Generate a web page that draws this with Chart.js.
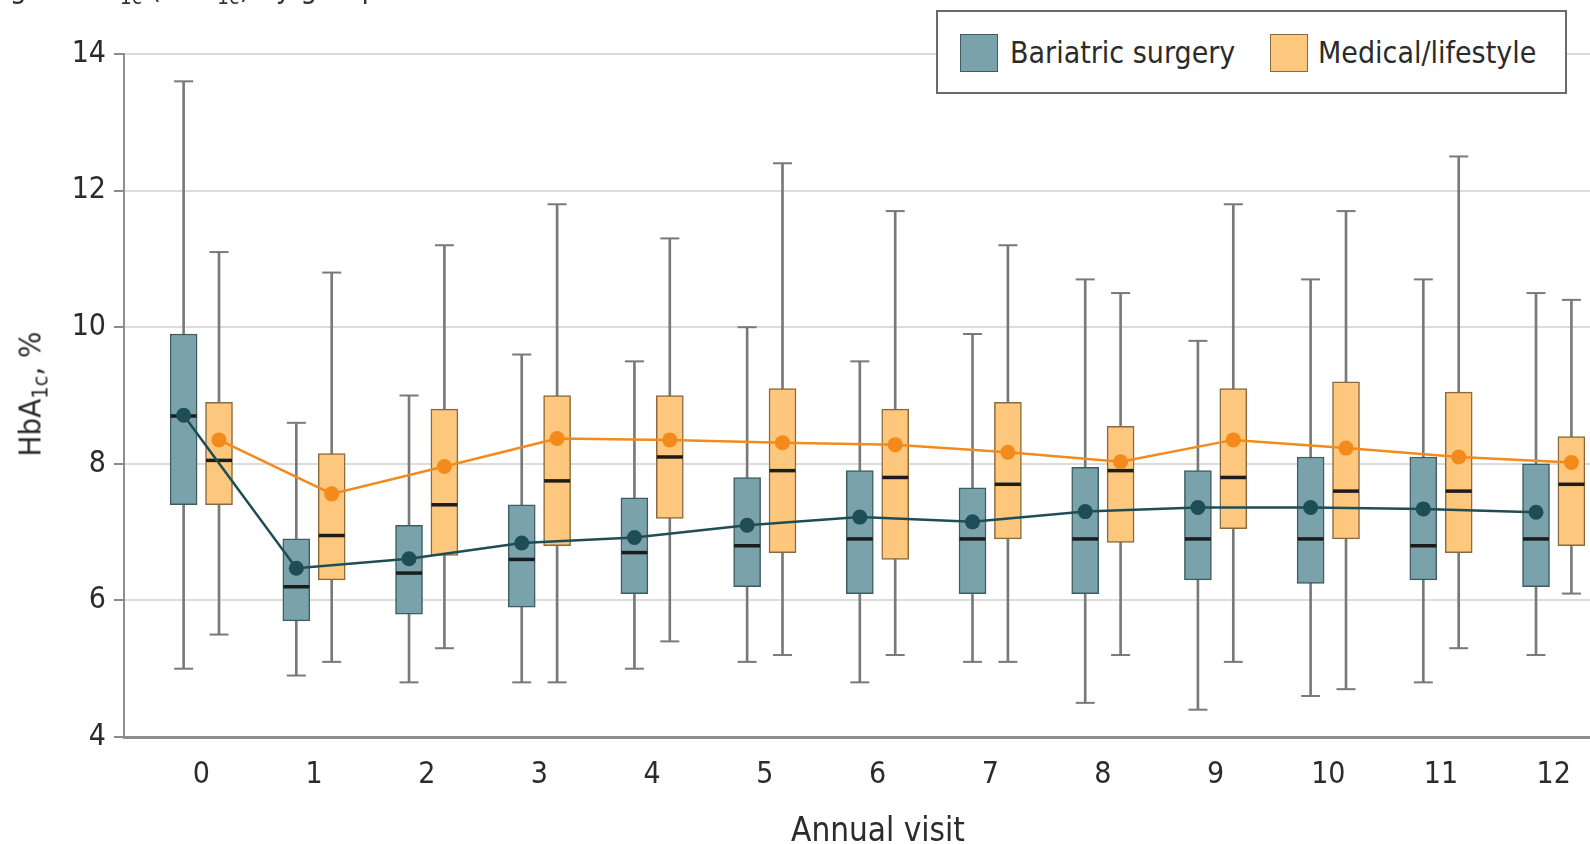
<!DOCTYPE html>
<html>
<head>
<meta charset="utf-8">
<script src="https://cdn.jsdelivr.net/npm/chart.js@4/dist/chart.umd.min.js"></script>
<style>
  html, body { margin: 0; padding: 0; background: #fff; overflow: hidden; }
  #wrap { position: relative; width: 1590px; height: 844px; overflow: hidden;
          font-family: 'DejaVu Sans Condensed', 'DejaVu Sans', sans-serif; color: #2b2b2b; }
  #chart { position: absolute; left: 0; top: 0; }
  .heading { position: absolute; left: -70px; top: -27px; font-size: 30px; line-height: 30px; white-space: nowrap; color: #333; }
  .heading sub, .ytitle sub { font-size: 70%; vertical-align: -0.3em; line-height: 0; }
  .ytitle { position: absolute; left: 30px; top: 394px; font-size: 31px; line-height: 31px; white-space: nowrap;
            transform: translate(-50%, -50%) rotate(-90deg); color: #2b2b2b; }
  .xtitle { position: absolute; left: 878px; top: 810px; transform: translateX(-50%); font-size: 33px; line-height: 40px;
            white-space: nowrap; color: #2b2b2b; }
  .legend { position: absolute; left: 936px; top: 10px; width: 631px; height: 84px; box-sizing: border-box;
            border: 2px solid #6a6a6a; background: #fff; }
  .swatch { position: absolute; top: 22px; width: 38px; height: 38px; box-sizing: border-box; border: 1.5px solid; }
  .ltext { position: absolute; top: 20px; font-size: 30px; line-height: 42px; white-space: nowrap; color: #2b2b2b; }
</style>
</head>
<body>
<div id="wrap">
  <canvas id="chart" width="1590" height="844"></canvas>
  <div class="heading">Hemoglobin A<sub>1c</sub> (HbA<sub>1c</sub>) by group</div>
  <div class="ytitle">HbA<sub>1c</sub>, %</div>
  <div class="xtitle">Annual visit</div>
  <div class="legend">
    <div class="swatch" style="left:22px; background:#7aa2aa; border-color:#3e5d63;"></div>
    <div class="ltext" style="left:72px;">Bariatric surgery</div>
    <div class="swatch" style="left:332px; background:#fdc77d; border-color:#8a6a3c;"></div>
    <div class="ltext" style="left:380px;">Medical/lifestyle</div>
  </div>
</div>
<script>
// Annual visits on the x axis
const visits = [0, 1, 2, 3, 4, 5, 6, 7, 8, 9, 10, 11, 12];
const yTicks = [4, 6, 8, 10, 12, 14];

// Bariatric surgery group: whisker ends, quartiles, median and mean HbA1c (%)
const surgLow    = [5.0, 4.9, 4.8, 4.8, 5.0, 5.1, 4.8, 5.1, 4.5, 4.4, 4.6, 4.8, 5.2];
const surgQ1     = [7.4, 5.7, 5.8, 5.9, 6.1, 6.2, 6.1, 6.1, 6.1, 6.3, 6.25, 6.3, 6.2];
const surgMedian = [8.7, 6.2, 6.4, 6.6, 6.7, 6.8, 6.9, 6.9, 6.9, 6.9, 6.9, 6.8, 6.9];
const surgQ3     = [9.9, 6.9, 7.1, 7.4, 7.5, 7.8, 7.9, 7.65, 7.95, 7.9, 8.1, 8.1, 8.0];
const surgHigh   = [13.6, 8.6, 9.0, 9.6, 9.5, 10.0, 9.5, 9.9, 10.7, 9.8, 10.7, 10.7, 10.5];
const surgMean   = [8.71, 6.47, 6.61, 6.84, 6.92, 7.10, 7.22, 7.15, 7.30, 7.36, 7.36, 7.34, 7.29];

// Medical/lifestyle group
const medLow    = [5.5, 5.1, 5.3, 4.8, 5.4, 5.2, 5.2, 5.1, 5.2, 5.1, 4.7, 5.3, 6.1];
const medQ1     = [7.4, 6.3, 6.66, 6.8, 7.2, 6.7, 6.6, 6.9, 6.85, 7.05, 6.9, 6.7, 6.8];
const medMedian = [8.05, 6.95, 7.4, 7.75, 8.1, 7.9, 7.8, 7.7, 7.9, 7.8, 7.6, 7.6, 7.7];
const medQ3     = [8.9, 8.15, 8.8, 9.0, 9.0, 9.1, 8.8, 8.9, 8.55, 9.1, 9.2, 9.05, 8.4];
const medHigh   = [11.1, 10.8, 11.2, 11.8, 11.3, 12.4, 11.7, 11.2, 10.5, 11.8, 11.7, 12.5, 10.4];
const medMean   = [8.35, 7.56, 7.96, 8.37, 8.35, 8.31, 8.28, 8.17, 8.03, 8.35, 8.23, 8.10, 8.02];

const FONT = "'DejaVu Sans Condensed', 'DejaVu Sans', sans-serif";
const SHIFT = 0.157;          // side-by-side placement of the two groups within a visit
const WHISKER = '#797979';

const surgColors = { fill: '#7aa2aa', edge: '#3e5d63', mean: '#1f4d56' };
const medColors  = { fill: '#fdc77d', edge: '#8a6a3c', mean: '#f28a1c' };

function groupDatasets(low, q1, med, q3, high, mean, dx, c) {
  const xs = visits.map(v => v + dx);
  return [
    { // mean trajectory
      type: 'line', order: 0,
      data: xs.map((x, i) => ({ x, y: mean[i] })),
      borderColor: c.mean, borderWidth: 2.5,
      pointRadius: 7.5, pointBackgroundColor: c.mean, pointBorderWidth: 0, pointHoverRadius: 7.5
    },
    { // medians
      type: 'scatter', order: 1,
      data: xs.map((x, i) => ({ x, y: med[i] })),
      pointStyle: 'line', pointRadius: 13, pointBorderWidth: 3.5,
      pointBorderColor: '#1c1c1c', pointHoverRadius: 13
    },
    { // interquartile boxes
      type: 'bar', order: 2, grouped: false,
      data: xs.map((x, i) => ({ x, y: [q1[i], q3[i]] })),
      backgroundColor: c.fill, borderColor: c.edge, borderWidth: 1.5, borderSkipped: false,
      barPercentage: 1, categoryPercentage: 1, maxBarThickness: 27
    },
    { // whisker caps
      type: 'scatter', order: 3,
      data: xs.map((x, i) => ({ x, y: low[i] })).concat(xs.map((x, i) => ({ x, y: high[i] }))),
      pointStyle: 'line', pointRadius: 9.5, pointBorderWidth: 2,
      pointBorderColor: WHISKER, pointHoverRadius: 9.5
    },
    { // whiskers
      type: 'bar', order: 4, grouped: false,
      data: xs.map((x, i) => ({ x, y: [low[i], high[i]] })),
      backgroundColor: WHISKER, borderWidth: 0,
      barPercentage: 1, categoryPercentage: 1, maxBarThickness: 2
    }
  ];
}

const datasets = [].concat(
  groupDatasets(surgLow, surgQ1, surgMedian, surgQ3, surgHigh, surgMean, -SHIFT, surgColors),
  groupDatasets(medLow, medQ1, medMedian, medQ3, medHigh, medMean, SHIFT, medColors)
);

new Chart(document.getElementById('chart'), {
  type: 'bar',
  data: { datasets },
  options: {
    responsive: false,
    animation: false,
    devicePixelRatio: 1,
    layout: { autoPadding: false, padding: { top: 54, right: 0, bottom: 0, left: 0 } },
    plugins: { legend: { display: false }, tooltip: { enabled: false } },
    events: [],
    scales: {
      x: {
        type: 'linear',
        offset: false,
        min: -0.686, max: 12.322,
        afterBuildTicks: axis => { axis.ticks = visits.map(v => ({ value: v })); },
        afterFit: axis => { axis.height = 107; axis.paddingLeft = 0; axis.paddingRight = 0; },
        grid: { display: false, drawTicks: false, offset: false },
        border: { display: true, color: '#8e8e8e', width: 3 },
        ticks: {
          padding: 20, color: '#2b2b2b', maxRotation: 0, autoSkip: false,
          font: { family: FONT, size: 30 }
        }
      },
      y: {
        min: 4, max: 14,
        afterBuildTicks: axis => { axis.ticks = yTicks.map(v => ({ value: v })); },
        afterFit: axis => { axis.width = 124; },
        grid: { color: '#dcdcdc', lineWidth: 2, tickLength: 10, tickColor: '#8a8a8a', tickWidth: 2 },
        border: { display: true, color: '#8e8e8e', width: 2 },
        ticks: { padding: 8, color: '#2b2b2b', font: { family: FONT, size: 30 } }
      }
    }
  }
});
</script>
</body>
</html>
